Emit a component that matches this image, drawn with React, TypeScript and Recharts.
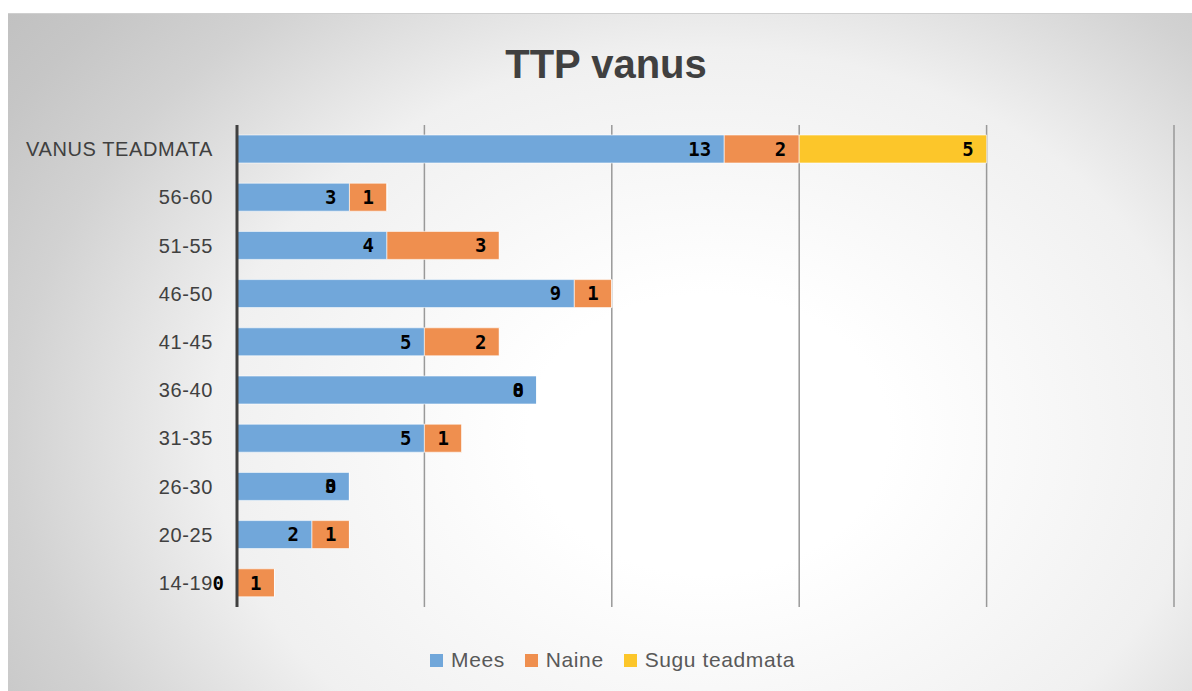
import React from "react";
import {
  BarChart,
  Bar,
  XAxis,
  YAxis,
  CartesianGrid,
  LabelList,
} from "recharts";

const categories = [
  "VANUS TEADMATA",
  "56-60",
  "51-55",
  "46-50",
  "41-45",
  "36-40",
  "31-35",
  "26-30",
  "20-25",
  "14-19",
];
const mees = [13, 3, 4, 9, 5, 8, 5, 3, 2, 0];
const naine = [2, 1, 3, 1, 2, 0, 1, 0, 1, 1];
const suguTeadmata = [5, null, null, null, null, null, null, null, null, null];
const xTicks = [0, 5, 10, 15, 20, 25];

const series = [
  { key: "mees", name: "Mees", color: "#71A7DA" },
  { key: "naine", name: "Naine", color: "#EF8F4F" },
  { key: "sugu", name: "Sugu teadmata", color: "#FCC62A" },
];

const data = categories.map((c, i) => ({
  name: c,
  mees: mees[i],
  naine: naine[i],
  sugu: suguTeadmata[i],
}));

const W = 1184;
const H = 678;

const App = () => {
  return (
    <div>
      <style>{`body{margin:0;overflow:hidden}`}</style>
      <div
        style={{
          position: "absolute",
          left: 8,
          top: 13,
          width: W,
          height: H,
          borderTop: "1px solid #cfcfcf",
          background:
            "radial-gradient(900px 700px at 700px 420px, #ffffff 0%, #ffffff 20%, #f0f0f0 55%, #d2d2d2 77%, #c6c6c6 90%, #c0c0c0 100%)",
          fontFamily: "'Liberation Sans', sans-serif",
        }}
      >
        <div
          style={{
            position: "absolute",
            top: 26,
            left: 0,
            width: W,
            textAlign: "center",
            paddingLeft: 12,
            boxSizing: "border-box",
            fontSize: 40,
            fontWeight: "bold",
            color: "#404040",
            lineHeight: "48px",
          }}
        >
          TTP vanus
        </div>
        <BarChart
          width={W}
          height={H}
          data={data}
          layout="vertical"
          margin={{ top: 111, right: 18, left: 0, bottom: 85 }}
          barSize={28}
        >
          <CartesianGrid
            horizontal={false}
            stroke="#999999"
            strokeWidth={1.5}
          />
          <XAxis
            type="number"
            domain={[0, 25]}
            ticks={xTicks}
            height={0}
            tick={() => <g />}
            axisLine={false}
            tickLine={false}
          />
          <YAxis
            type="category"
            dataKey="name"
            width={229}
            axisLine={{ stroke: "#404040", strokeWidth: 3 }}
            tickLine={false}
            tickMargin={18}
            tick={{ fill: "#404040", fontSize: 20, letterSpacing: 0.6 }}
          />
          {series.map((s) => (
            <Bar
              key={s.key}
              dataKey={s.key}
              name={s.name}
              stackId="a"
              fill={s.color}
              stroke="#ffffff"
              strokeOpacity={0.6}
              strokeWidth={1}
              minPointSize={0.01}
              isAnimationActive={false}
            >
              <LabelList
                dataKey={s.key}
                position="insideRight"
                offset={13}
                fill="#000000"
                fontSize={19}
                fontWeight="bold"
                fontFamily="'DejaVu Sans Mono', monospace"
              />
            </Bar>
          ))}
        </BarChart>
        <div
          style={{
            position: "absolute",
            top: 634,
            left: 0,
            width: W,
            display: "flex",
            justifyContent: "center",
            paddingLeft: 45,
            boxSizing: "border-box",
            fontSize: 21,
            letterSpacing: 0.6,
            color: "#595959",
          }}
        >
          {series.map((s) => (
            <div
              key={s.key}
              style={{ display: "flex", alignItems: "center", marginRight: 20 }}
            >
              <span
                style={{
                  display: "inline-block",
                  width: 13,
                  height: 13,
                  background: s.color,
                  marginRight: 8,
                }}
              />
              <span>{s.name}</span>
            </div>
          ))}
        </div>
      </div>
    </div>
  );
};

export default App;
